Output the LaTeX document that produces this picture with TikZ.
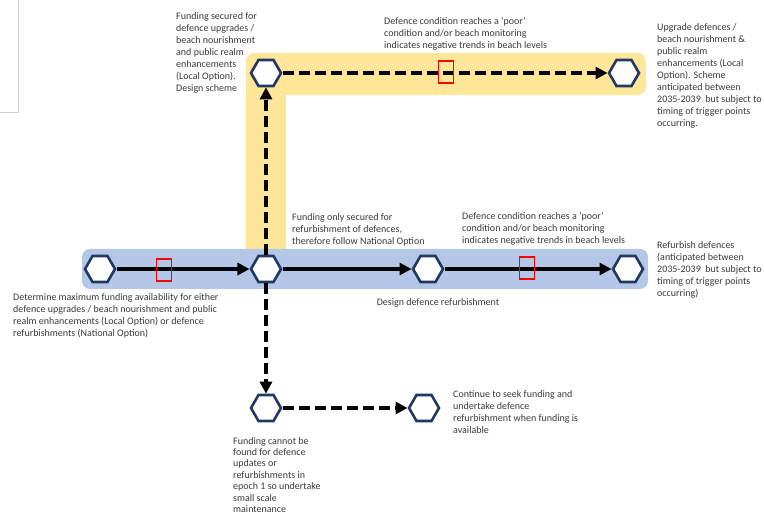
\documentclass[tikz,border=0pt]{standalone}
\usepackage{fontspec}
\setmainfont{Carlito}
\usetikzlibrary{arrows.meta,shapes.geometric,positioning,calc}
\definecolor{bandyellow}{HTML}{FFE699}
\definecolor{bandblue}{HTML}{B4C7E7}
\definecolor{hexnavy}{HTML}{1F3864}
\definecolor{txtgray}{HTML}{3A3A3A}

\begin{document}
\begin{tikzpicture}[x=1pt,y=-1pt]
  \useasboundingbox (0,0) rectangle (764,526);
  \tikzstyle{hexa}=[regular polygon, regular polygon sides=6, draw=hexnavy,
    line width=2.6pt, fill=white, minimum size=30pt, inner sep=0pt]
  \tikzstyle{flow}=[line width=3.6pt, -{Triangle[length=12pt,width=12pt]}]
  \tikzstyle{dflow}=[flow, dash pattern=on 11pt off 5pt]
  \tikzstyle{redbox}=[draw=red, line width=1.3pt, minimum width=15pt,
    minimum height=22pt, inner sep=0pt]
  \tikzstyle{note}=[font=\fontsize{10}{12}\selectfont, text=txtgray,
    align=left, anchor=north west, inner sep=0pt]
  % frame cut off at the top left
  \draw[gray!35, line width=1pt] (0,113) -- (18,113) -- (18,0);
  % option bands
  \fill[bandyellow, rounded corners=8pt] (246,53) rectangle (646,95);
  \fill[bandyellow] (246,80) rectangle (286,260);
  \fill[bandblue, rounded corners=8pt] (82,249) rectangle (648,289);
  % decision points
  \foreach \n/\x/\y in {up/266/73, upend/624/73, start/100/269, split/266/269,
                        design/428/269, refurb/628/269, low/266/408, seek/424/408}{
    \node[hexa] (\n) at (\x,\y) {};
  }
  \draw[flow] (start) -- (split);
  \draw[flow] (split) -- (design);
  \draw[flow] (design) -- (refurb);
  \draw[dflow] (split) -- (up);
  \draw[dflow] (up) -- (upend);
  \draw[dflow] (split) -- (low);
  \draw[dflow] (low) -- (seek);
  % trigger points
  \foreach \t/\x/\y in {tUp/446/72, tStart/164/270, tRefurb/527/268}{
    \node[redbox] (\t) at (\x,\y) {};
  }
  % labels
  \node[note] (lUp) at (176,12) {Funding secured for\\defence upgrades /\\beach nourishment\\and public realm\\enhancements\\(Local Option).\\Design scheme};
  \node[note] (lTrigUp) at (384,17) {Defence condition reaches a `poor'\\condition and/or beach monitoring\\indicates negative trends in beach levels};
  \node[note] (lUpend) at (657,23) {Upgrade defences /\\beach nourishment \&\\public realm\\enhancements (Local\\Option). Scheme\\anticipated between\\2035-2039~ but subject to\\timing of trigger points\\occurring.};
  \node[note] (lStart) at (13,293) {Determine maximum funding availability for either\\defence upgrades / beach nourishment and public\\realm enhancements (Local Option) or defence\\refurbishments (National Option)};
  \node[note] (lSplit) at (292,213) {Funding only secured for\\refurbishment of defences,\\therefore follow National Option};
  \node[note] (lTrigRefurb) at (462,212) {Defence condition reaches a `poor'\\condition and/or beach monitoring\\indicates negative trends in beach levels};
  \node[note, anchor=center] (lDesign) at (438,303) {Design defence refurbishment};
  \node[note] (lRefurb) at (657,241) {Refurbish defences\\(anticipated between\\2035-2039~ but subject to\\timing of trigger points\\occurring)};
  \node[note, font=\fontsize{10}{11.4}\selectfont] (lLow) at (233,437) {Funding cannot be\\found for defence\\updates or\\refurbishments in\\epoch 1 so undertake\\small scale\\maintenance};
  \node[note] (lSeek) at (453,390) {Continue to seek funding and\\undertake defence\\refurbishment when funding is\\available};
\end{tikzpicture}
\end{document}
